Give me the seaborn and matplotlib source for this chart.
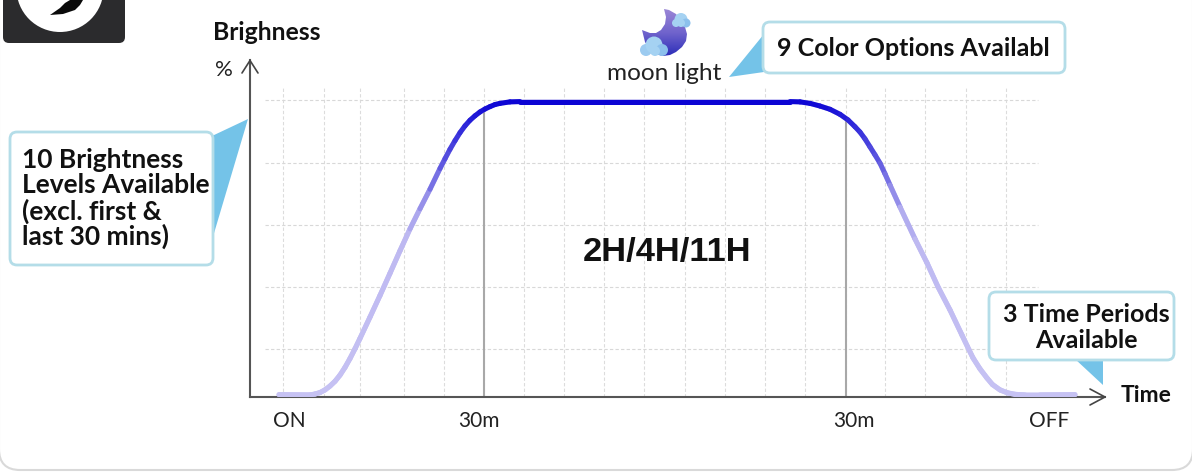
import matplotlib
matplotlib.use("Agg")
import matplotlib.pyplot as plt
import numpy as np
import seaborn as sns
from matplotlib.collections import LineCollection
from matplotlib.colors import LinearSegmentedColormap
from matplotlib.patches import Circle, FancyBboxPatch, Polygon

W, H = 1192, 472

# curve: time in chart units, brightness in %
time_units = [-0.2, 6, 7, 8, 9, 10, 11, 12, 13, 14, 15, 16, 18, 20, 22, 24, 26, 28, 30, 32, 33, 34, 35, 36, 37,
              38, 39, 40, 41, 42, 43, 44, 46, 48, 102, 104, 106, 108, 110, 112, 113.6, 115, 116, 117, 118, 119,
              120, 121, 122, 124, 127, 129.4, 131.6, 134, 136.4, 137.5, 138.6, 140, 141.4, 142.5, 144, 145.5,
              147, 149, 152, 159]
brightness = [0.8, 0.7, 1.0, 1.5, 2.4, 3.7, 5.3, 7.4, 10, 13, 16.3, 19.8, 27, 34.3, 41.8, 49.4, 56.8, 63.6, 70.2,
              77.2, 80.5, 83.7, 86.6, 89.3, 91.6, 93.5, 95, 96.3, 97.3, 98.1, 98.8, 99.2, 99.7, 99.8, 99.8, 99.7,
              99.2, 98.3, 97.2, 95.5, 93.6, 91.3, 89.5, 87.2, 84.5, 81.8, 79, 75.4, 71.6, 64.2, 53.4, 45.3, 37.2,
              29.4, 20.9, 17, 13.2, 9.5, 6.4, 4.2, 2.4, 1.4, 0.9, 0.7, 0.7, 0.8]

grid_x = [0.6, 8.8, 16, 24.8, 32.8, 40.8, 48.8, 56.8, 64.8, 72.8, 81, 89, 97, 105, 113.2, 121, 129, 137.2, 145.2]
grid_y = [100.3, 79, 58.1, 37.2, 16.2]
marker_x = [40.8, 113.2]
marker_top = [97, 93.6]
tick_pos = [1.8, 39.8, 114.8, 153.8]
tick_labels = ["ON", "30m", "30m", "OFF"]

BLUE = "#74c3e8"
EDGE = "#b4dde8"
TXT = "#111111"

sns.set_theme(style="white")
plt.rcParams["font.family"] = ["Lato", "DejaVu Sans"]

fig = plt.figure(figsize=(W / 100, H / 100), dpi=100, facecolor="white")
ax = fig.add_axes([250 / W, 1 - 397 / H, 855 / W, 337 / H])
ax.set_xlim(-6, 165)
ax.set_ylim(0, 113.85)

ax.vlines(grid_x, 0, 104.7, color="#dcdcdc", lw=0.8, linestyles=(0, (3, 2)), zorder=1)
ax.hlines(grid_y, -3, 151.6, color="#d8d8d8", lw=0.8, linestyles=(0, (3, 2)), zorder=1)
ax.vlines(marker_x, 0, marker_top, color="#a8a8a8", lw=1.5, zorder=2)

# base line, then the same points again coloured by height
sns.lineplot(x=time_units, y=brightness, sort=False, estimator=None, color="#c6c2f3", lw=3.6, ax=ax, zorder=3)
cmap = LinearSegmentedColormap.from_list(
    "ramp",
    [(0, "#c6c2f3"), (0.55, "#bdb8f1"), (0.65, "#a09aeb"), (0.79, "#5f58e0"), (0.92, "#2f28da"), (1, "#0c04d4")],
)
pts = np.column_stack([time_units, brightness])
segs = np.stack([pts[:-1], pts[1:]], axis=1)
lc = LineCollection(segs, cmap=cmap, norm=plt.Normalize(0, 100), lw=3.6, capstyle="round", zorder=4)
lc.set_array((pts[:-1, 1] + pts[1:, 1]) / 2)
ax.add_collection(lc)

sns.despine(ax=ax)
for s in ["left", "bottom"]:
    ax.spines[s].set_color("#555555")
    ax.spines[s].set_linewidth(1.5)
ax.set_xticks(tick_pos, tick_labels, fontsize=15, color="#222222")
ax.set_yticks([])
ax.tick_params(axis="x", length=0, pad=10)

# everything that is annotation lives in a pixel-sized overlay
ov = fig.add_axes([0, 0, 1, 1], facecolor="none")
ov.set_xlim(0, W)
ov.set_ylim(H, 0)
ov.axis("off")

# page panel outline, sides fall on the picture edge
ov.add_patch(FancyBboxPatch((-1, -60), W + 2, 530, boxstyle="round,pad=0,rounding_size=21",
                            fc="none", ec="#d9d9d9", lw=1.5))

# logo tile, cut by the top of the picture
ov.add_patch(FancyBboxPatch((3, -30), 122, 73, boxstyle="round,pad=0,rounding_size=6", fc="#2b2b2d", ec="none"))
ov.add_patch(Circle((60, -11.6), 43.6, fc="white", ec="none"))
ov.add_patch(Polygon([(50, 15), (60, 8), (65, 3), (70, 0), (83, 0), (80, 5), (75, 10), (63, 14)], fc="#0a0a0a", ec="none"))

# axis arrow heads
ov.plot([242, 250, 258], [73, 60.5, 73], color="#444444", lw=1.2)
ov.plot([1090, 1105, 1090], [389, 397, 405], color="#444444", lw=1.2)


def callout(x0, y0, x1, y1, tri):
    ov.add_patch(Polygon(tri, fc=BLUE, ec="none", zorder=5))
    ov.add_patch(FancyBboxPatch((x0, y0), x1 - x0, y1 - y0, boxstyle="round,pad=0,rounding_size=7",
                                fc="white", ec=EDGE, lw=2, zorder=6))


callout(10, 132, 213, 265, [(212, 136), (248, 119), (212, 240)])
callout(763, 22, 1065, 73, [(764, 34), (729, 77), (764, 72)])
callout(989, 292, 1174, 360, [(1075, 359), (1103, 359), (1103, 385)])

bold = dict(fontweight="bold", color=TXT, zorder=7)
for yy, line in zip([160, 185, 211, 236], ["10 Brightness", "Levels Available", "(excl. first &", "last 30 mins)"]):
    ov.text(22, yy, line, fontsize=19, ha="left", va="center", **bold)
ov.text(913, 48, "9 Color Options Availabl", fontsize=18, ha="center", va="center", **bold)
ov.text(1086, 314, "3 Time Periods", fontsize=18, ha="center", va="center", **bold)
ov.text(1086, 340, "Available", fontsize=18, ha="center", va="center", **bold)
ov.text(267, 33, "Brighness", fontsize=17.8, ha="center", va="center", **bold)
ov.text(1146, 395, "Time", fontsize=16.5, ha="center", va="center", **bold)
ov.text(224, 70, "%", fontsize=16, ha="center", va="center", color="#222222")
ov.text(664, 73, "moon light", fontsize=17.6, ha="center", va="center", color="#222222")
ov.text(667, 253, "2H/4H/11H", fontsize=24.8, ha="center", va="center", fontweight="bold",
        family="Liberation Sans", color=TXT)

# moon icon
moon = Polygon([(664, 9), (669, 10), (676, 14), (681, 20), (685, 27), (687, 34), (686, 41), (682, 47), (676, 52),
                (670, 55), (663, 56), (656, 54), (650, 50), (645, 42), (642, 30), (650, 33), (656, 33), (661, 30),
                (665, 24), (666, 17)], ec="none", fc="none")
ov.add_patch(moon)
grad = ov.imshow(np.linspace(0, 1, 64).reshape(-1, 1), extent=(640, 690, 57, 9),
                 cmap=LinearSegmentedColormap.from_list("moon", ["#9a86d6", "#6f63cc", "#2a2cb8"]),
                 aspect="auto", zorder=3)
grad.set_clip_path(moon)
ov.set_xlim(0, W)
ov.set_ylim(H, 0)
for cx, cy, r, col in [(646, 50, 6, "#9ccbf0"), (654, 45, 8.5, "#a5d2f2"), (662, 50, 6, "#8cc0ec"), (655, 51, 5, "#a5d2f2"),
                       (676, 23, 4, "#a5d2f2"), (681, 19.5, 6.5, "#a5d2f2"), (686, 23, 4.5, "#8cc0ec"), (681, 23, 4, "#a5d2f2")]:
    ov.add_patch(Circle((cx, cy), r, fc=col, ec="none", zorder=4))

fig.savefig("out.png", dpi=100)
